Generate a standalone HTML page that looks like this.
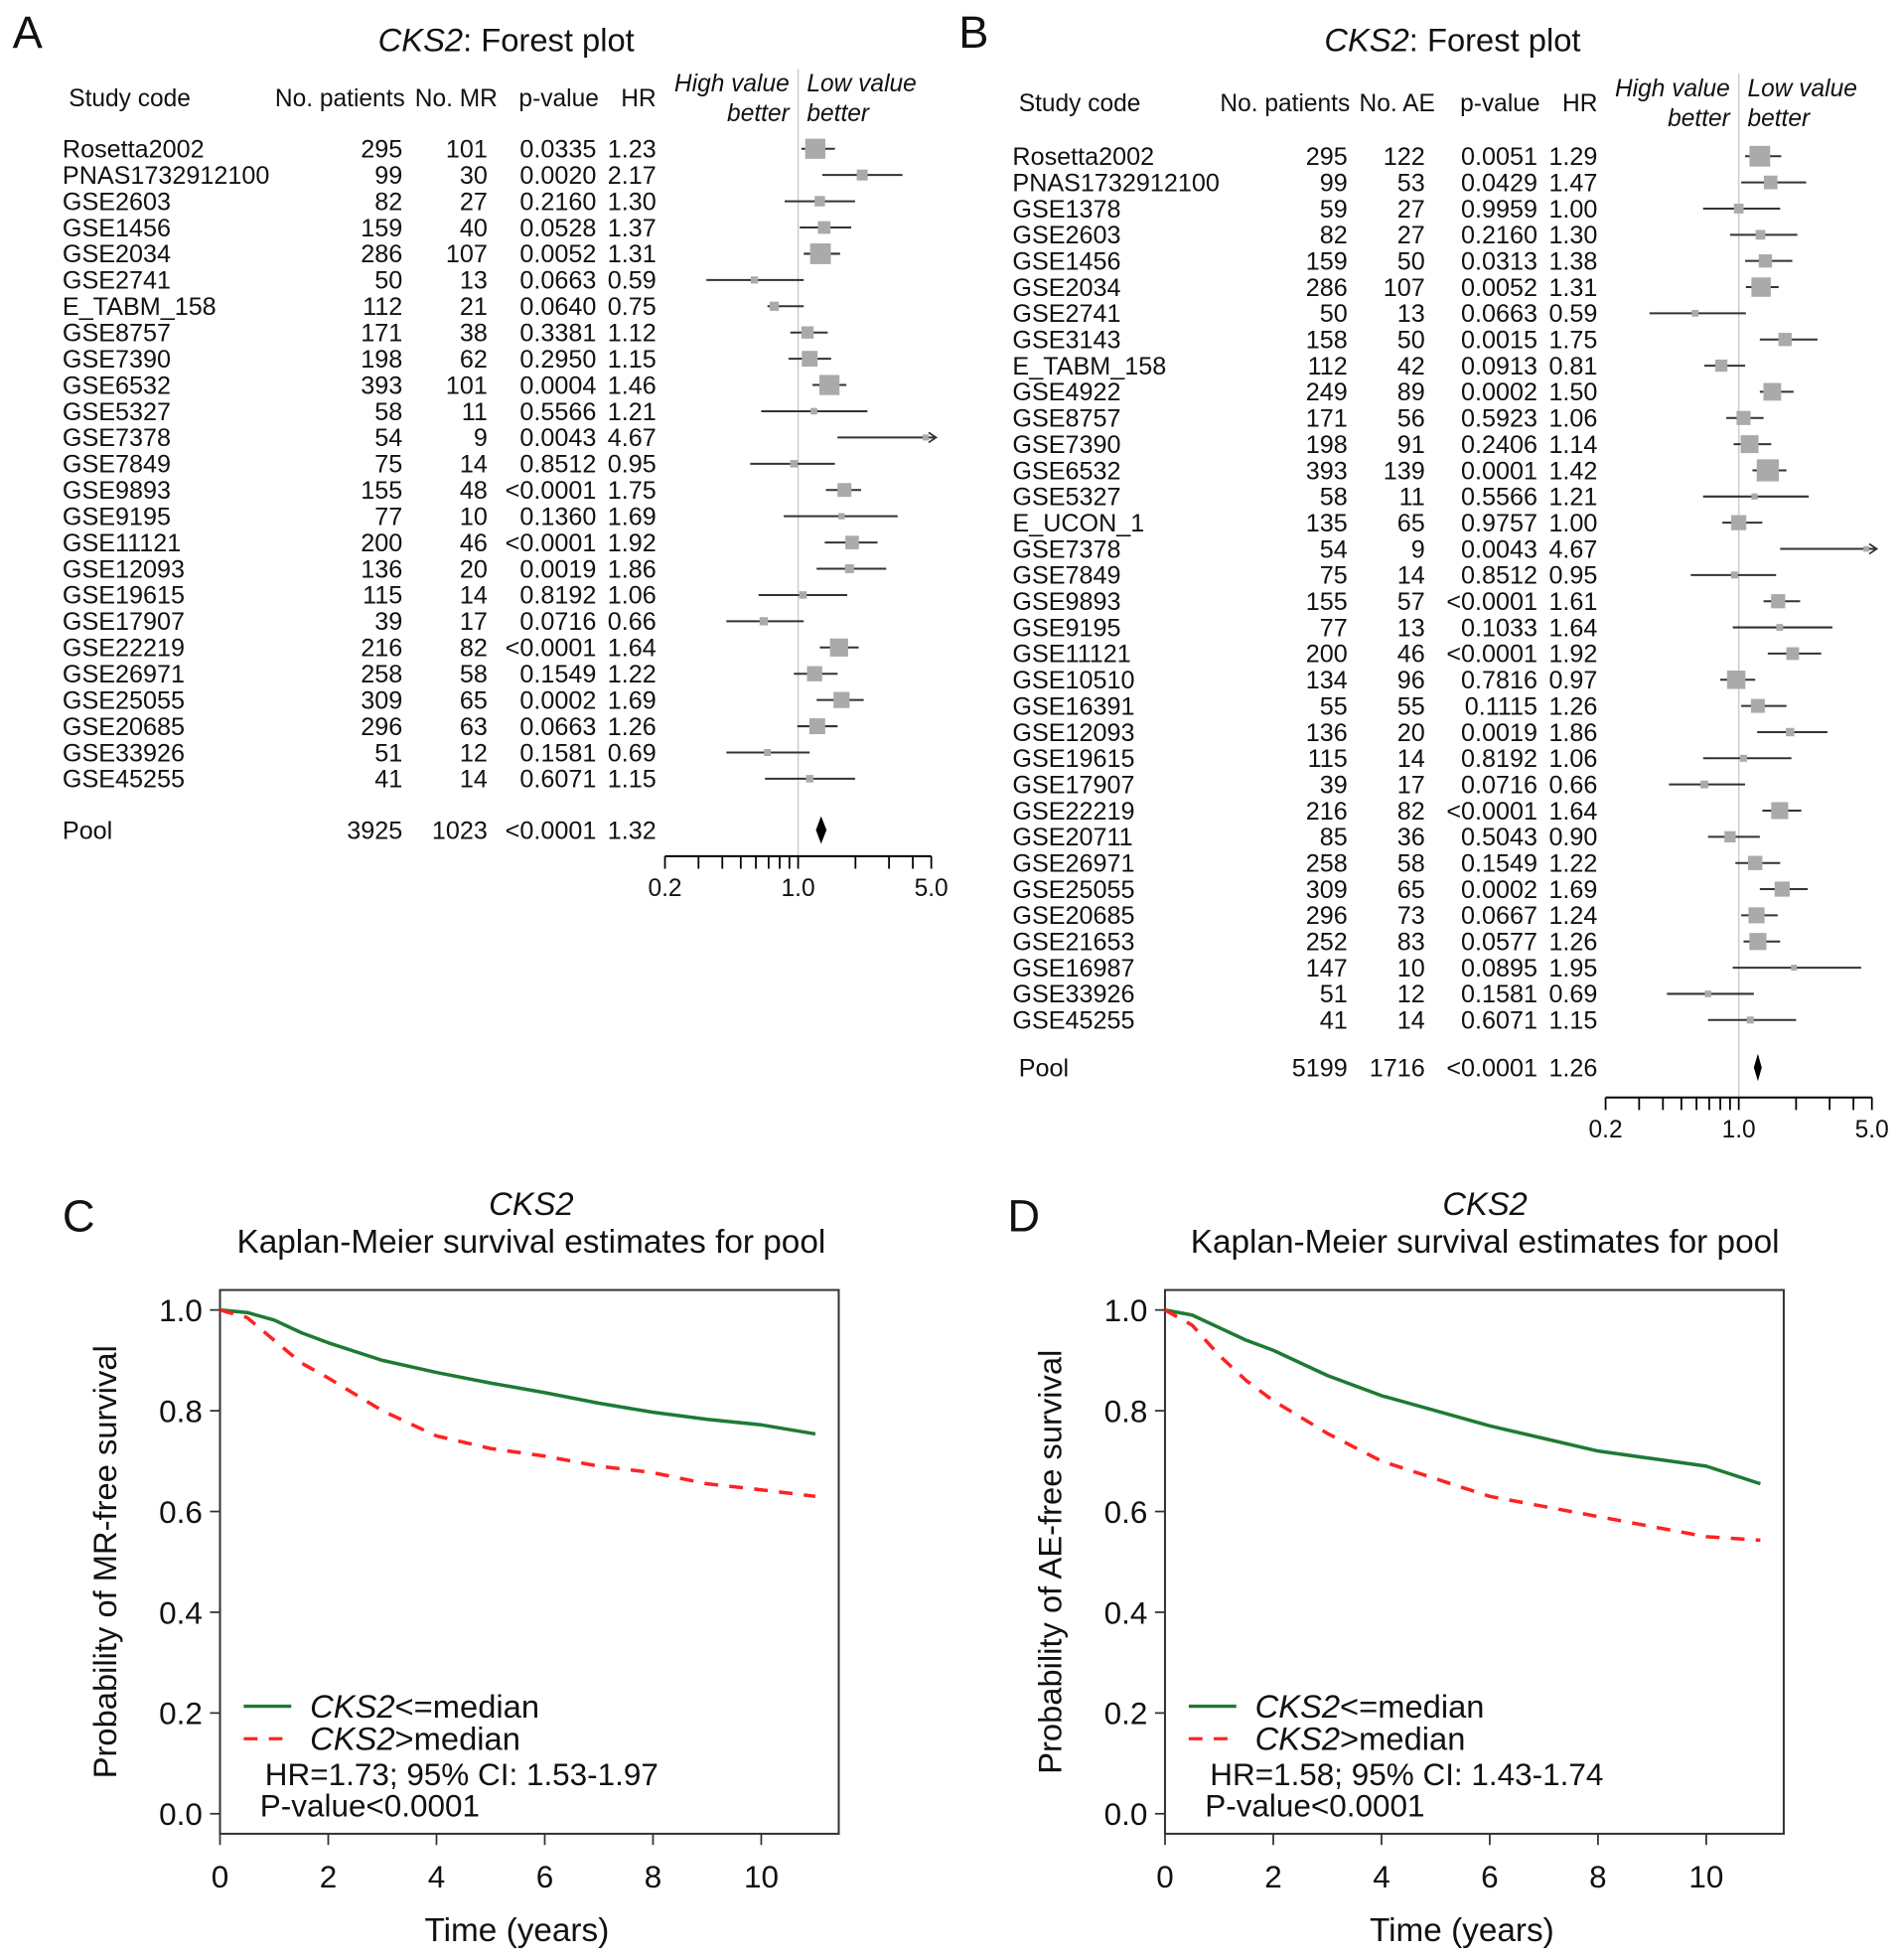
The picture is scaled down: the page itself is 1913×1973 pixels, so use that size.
<!DOCTYPE html>
<html><head><meta charset="utf-8"><style>
html,body{margin:0;padding:0;background:#fff}
svg{display:block}
text{font-family:"Liberation Sans",Arial,sans-serif;fill:#111}
</style></head><body>
<svg id="fig" xmlns="http://www.w3.org/2000/svg" width="1913" height="1973" viewBox="0 0 1520 1568" preserveAspectRatio="none"></svg>
<script>
// ---------- Panel A data ----------
const aStudies=["Rosetta2002","PNAS1732912100","GSE2603","GSE1456","GSE2034","GSE2741","E_TABM_158","GSE8757","GSE7390","GSE6532","GSE5327","GSE7378","GSE7849","GSE9893","GSE9195","GSE11121","GSE12093","GSE19615","GSE17907","GSE22219","GSE26971","GSE25055","GSE20685","GSE33926","GSE45255"];
const aPatients=[295,99,82,159,286,50,112,171,198,393,58,54,75,155,77,200,136,115,39,216,258,309,296,51,41];
const aEvents=[101,30,27,40,107,13,21,38,62,101,11,9,14,48,10,46,20,14,17,82,58,65,63,12,14];
const aP=["0.0335","0.0020","0.2160","0.0528","0.0052","0.0663","0.0640","0.3381","0.2950","0.0004","0.5566","0.0043","0.8512","<0.0001","0.1360","<0.0001","0.0019","0.8192","0.0716","<0.0001","0.1549","0.0002","0.0663","0.1581","0.6071"];
const aHR=[1.23,2.17,1.30,1.37,1.31,0.59,0.75,1.12,1.15,1.46,1.21,4.67,0.95,1.75,1.69,1.92,1.86,1.06,0.66,1.64,1.22,1.69,1.26,0.69,1.15];
const aLo=[1.04,1.34,0.85,1.02,1.07,0.33,0.69,0.91,0.89,1.19,0.64,1.61,0.56,1.40,0.84,1.38,1.25,0.62,0.42,1.30,0.95,1.25,0.99,0.42,0.67];
const aHi=[1.56,3.53,1.99,1.90,1.66,1.07,1.07,1.43,1.49,1.79,2.31,6.0,1.56,2.14,3.33,2.61,2.90,1.81,1.07,2.08,1.61,2.21,1.61,1.15,1.99];
const aPool={n:"3925",e:"1023",p:"<0.0001",hr:1.32,lo:1.24,hi:1.41};
// ---------- Panel B data ----------
const bStudies=["Rosetta2002","PNAS1732912100","GSE1378","GSE2603","GSE1456","GSE2034","GSE2741","GSE3143","E_TABM_158","GSE4922","GSE8757","GSE7390","GSE6532","GSE5327","E_UCON_1","GSE7378","GSE7849","GSE9893","GSE9195","GSE11121","GSE10510","GSE16391","GSE12093","GSE19615","GSE17907","GSE22219","GSE20711","GSE26971","GSE25055","GSE20685","GSE21653","GSE16987","GSE33926","GSE45255"];
const bPatients=[295,99,59,82,159,286,50,158,112,249,171,198,393,58,135,54,75,155,77,200,134,55,136,115,39,216,85,258,309,296,252,147,51,41];
const bEvents=[122,53,27,27,50,107,13,50,42,89,56,91,139,11,65,9,14,57,13,46,96,55,20,14,17,82,36,58,65,73,83,10,12,14];
const bP=["0.0051","0.0429","0.9959","0.2160","0.0313","0.0052","0.0663","0.0015","0.0913","0.0002","0.5923","0.2406","0.0001","0.5566","0.9757","0.0043","0.8512","<0.0001","0.1033","<0.0001","0.7816","0.1115","0.0019","0.8192","0.0716","<0.0001","0.5043","0.1549","0.0002","0.0667","0.0577","0.0895","0.1581","0.6071"];
const bHR=[1.29,1.47,1.00,1.30,1.38,1.31,0.59,1.75,0.81,1.50,1.06,1.14,1.42,1.21,1.00,4.67,0.95,1.61,1.64,1.92,0.97,1.26,1.86,1.06,0.66,1.64,0.90,1.22,1.69,1.24,1.26,1.95,0.69,1.15];
const bLo=[1.08,1.03,0.65,0.90,1.08,1.09,0.34,1.29,0.66,1.29,0.86,0.94,1.18,0.65,0.82,1.65,0.56,1.35,0.93,1.42,0.80,1.03,1.25,0.65,0.43,1.33,0.69,0.96,1.29,1.03,1.06,0.93,0.42,0.69];
const bHi=[1.67,2.26,1.65,2.03,1.91,1.62,1.09,2.59,1.08,1.94,1.35,1.48,1.78,2.33,1.33,6.0,1.57,2.10,3.10,2.71,1.22,1.78,2.92,1.89,1.08,2.13,1.29,1.65,2.30,1.60,1.65,4.39,1.20,2.00];
const bPool={n:"5199",e:"1716",p:"<0.0001",hr:1.26,lo:1.20,hi:1.32};
// ---------- KM data ----------
const kmYears=[0,0.5,1,1.5,2,3,4,5,6,7,8,9,10,11];
const cLow=[1.0,0.995,0.98,0.955,0.935,0.90,0.876,0.855,0.836,0.815,0.797,0.783,0.772,0.754];
const cHigh=[1.0,0.985,0.94,0.895,0.865,0.80,0.750,0.725,0.710,0.690,0.677,0.655,0.643,0.630];
const dLow=[1.0,0.99,0.965,0.94,0.92,0.87,0.83,0.80,0.77,0.745,0.72,0.705,0.69,0.655];
const dHigh=[1.0,0.97,0.91,0.86,0.82,0.755,0.70,0.665,0.63,0.61,0.59,0.57,0.55,0.543];
const hrTicks=[0.2,0.3,0.4,0.5,0.6,0.7,0.8,0.9,1,2,3,4,5];
const hrTickLabels=["0.2","1.0","5.0"];
const kmYTicks=[0,0.2,0.4,0.6,0.8,1.0];
const kmXTicks=[0,2,4,6,8,10];

const NS="http://www.w3.org/2000/svg";
const svg=document.getElementById('fig');
function mk(tag,attrs,parent){const e=document.createElementNS(NS,tag);for(const k in attrs)e.setAttribute(k,attrs[k]);(parent||svg).appendChild(e);return e;}
function txt(s,x,y,size,anchor,parent,extra){const t=mk('text',Object.assign({x:x,y:y,'font-size':size,'text-anchor':anchor||'start'},extra||{}),parent);t.textContent=s;return t;}

function forest(cfg){
  const g=mk('g',{});
  
  
  const sx=v=>cfg.c1+152.4*Math.log10(v);
  const lab=txt(cfg.letter,cfg.lx,cfg.ly,36,'start',g);
  
  const t=mk('text',{x:cfg.tx,y:cfg.ty,'font-size':26,'text-anchor':'middle'},g);
  
  const ti=mk('tspan',{'font-style':'italic'},t);ti.textContent='CKS2';
  const tr=mk('tspan',{},t);tr.textContent=': Forest plot';
  const hdr=[["Study code",cfg.colName+5,'start'],["No. patients",cfg.colN+2,'end'],[cfg.evLabel,cfg.colE+8,'end'],["p-value",cfg.colP+2,'end'],["HR",cfg.colH,'end']];
  hdr.forEach(h=>{const e=txt(h[0],h[1],cfg.hy,19.5,h[2],g);});
  const c1=sx(1);
  [["High value",c1-7,cfg.hy-12,'end'],["better",c1-7,cfg.hy+12,'end'],["Low value",c1+7,cfg.hy-12,'start'],["better",c1+7,cfg.hy+12,'start']].forEach(h=>{
    const e=txt(h[0],h[1],h[2],19.5,h[3],g,{'font-style':'italic'});});
  const ref=mk('line',{x1:c1,x2:c1,y1:cfg.hy-30,y2:cfg.axY,stroke:'#ccc','stroke-width':1.2},g);
  
  cfg.studies.forEach((s,i)=>{
    const y=cfg.y0+i*cfg.dy;
    const row=mk('g',{},g);
    
    txt(s,cfg.colName,y+7,20,'start',row);
    txt(String(cfg.n[i]),cfg.colN,y+7,20,'end',row);
    txt(String(cfg.e[i]),cfg.colE,y+7,20,'end',row);
    txt(cfg.p[i],cfg.colP,y+7,20,'end',row);
    txt(cfg.hr[i].toFixed(2),cfg.colH,y+7,20,'end',row);
    const hiC=Math.min(cfg.hi[i],5.3);
    const ci=mk('line',{x1:sx(cfg.lo[i]),x2:sx(hiC),y1:y,y2:y,stroke:'#333','stroke-width':1.6},row);
    
    if(cfg.hi[i]>5.3){const a=mk('path',{d:`M${sx(hiC)-6},${y-4} L${sx(hiC)},${y} L${sx(hiC)-6},${y+4}`,fill:'none',stroke:'#333','stroke-width':1.4},row);
      }
    const sz=cfg.k*Math.sqrt(cfg.e[i]);
    const b=mk('rect',{x:sx(cfg.hr[i])-sz/2,y:y-sz/2,width:sz,height:sz,fill:'#aaa'},row);
    
  });
  const py=cfg.poolY;
  const pr=mk('g',{},g);
  txt("Pool",cfg.colName+(cfg.letter=='B'?5:0),py+7,20,'start',pr);
  txt(cfg.pool.n,cfg.colN,py+7,20,'end',pr);txt(cfg.pool.e,cfg.colE,py+7,20,'end',pr);
  txt(cfg.pool.p,cfg.colP,py+7,20,'end',pr);txt(cfg.pool.hr.toFixed(2),cfg.colH,py+7,20,'end',pr);
  const d=mk('path',{d:`M${sx(cfg.pool.lo)},${py} L${sx(cfg.pool.hr)},${py-11} L${sx(cfg.pool.hi)},${py} L${sx(cfg.pool.hr)},${py+11}Z`,fill:'#000'},pr);
  
  const ax=mk('g',{},g);
  mk('line',{x1:sx(0.2),x2:sx(5),y1:cfg.axY,y2:cfg.axY,stroke:'#000','stroke-width':1.6},ax);
  hrTicks.forEach(v=>mk('line',{x1:sx(v),x2:sx(v),y1:cfg.axY,y2:cfg.axY+10,stroke:'#000','stroke-width':1.4},ax));
  hrTickLabels.forEach(l=>txt(l,sx(parseFloat(l)),cfg.axY+32,19.5,'middle',ax));
}
forest({name:'forest-plot-a',letter:'A',lx:10,ly:38,tx:405,ty:41,hy:85,colName:50,colN:322,colE:390,colP:477,colH:525,c1:638.5,
  y0:119,dy:21.0,poolY:664,axY:685,studies:aStudies,n:aPatients,e:aEvents,p:aP,hr:aHR,lo:aLo,hi:aHi,pool:aPool,evLabel:'No. MR',k:1.6});
forest({name:'forest-plot-b',letter:'B',lx:767,ly:38,tx:1162,ty:41,hy:89,colName:810,colN:1078,colE:1140,colP:1230,colH:1278,c1:1391,
  y0:125,dy:20.94,poolY:854,axY:878,studies:bStudies,n:bPatients,e:bEvents,p:bP,hr:bHR,lo:bLo,hi:bHi,pool:bPool,evLabel:'No. AE',k:1.5});

function km(cfg){
  const g=mk('g',{});
  
  const L=cfg.x0,T=1032,R=cfg.x0+495,B=1467;
  const sx=v=>L+43.3*v, sy=v=>1451-403*v;
  const lab=txt(cfg.letter,cfg.lx,985,36,'start',g);
  const t1=txt('CKS2',cfg.tx,972,26,'middle',g,{'font-style':'italic'});
  const t2=txt('Kaplan-Meier survival estimates for pool',cfg.tx,1002,26.5,'middle',g);
  const fr=mk('rect',{x:L,y:T,width:R-L,height:B-T,fill:'none',stroke:'#333','stroke-width':1.6},g);
  const ya=mk('g',{},g);
  kmYTicks.forEach(v=>{mk('line',{x1:L-8,x2:L,y1:sy(v),y2:sy(v),stroke:'#333','stroke-width':1.4},ya);txt(v.toFixed(1),L-14,sy(v)+9,25,'end',ya);});
  const xa=mk('g',{},g);
  kmXTicks.forEach(v=>{mk('line',{x1:sx(v),x2:sx(v),y1:B,y2:B+9,stroke:'#333','stroke-width':1.4},xa);txt(String(v),sx(v),B+43,25,'middle',xa);});
  const xt=txt('Time (years)',(L+R)/2-10,1553,26.5,'middle',g);
  const yt=txt(cfg.ylab,0,0,26,'middle',g,{transform:`translate(${cfg.ylx},${(T+B)/2}) rotate(-90)`});
  function curve(vals,color,dash,nm){
    let d=`M${sx(kmYears[0])},${sy(vals[0])}`;
    for(let i=1;i<kmYears.length;i++){d+=` L${sx(kmYears[i])},${sy(vals[i])}`;}
    const p=mk('path',{d:d,fill:'none',stroke:color,'stroke-width':2.8,'stroke-dasharray':dash||'none','stroke-linejoin':'round'},g);
    
  }
  curve(cfg.low,'#1e7a32',null,'curve-low');
  curve(cfg.high,'#ff2222','11 9','curve-high');
  const lg=mk('g',{},g);
  mk('line',{x1:L+19,x2:L+57,y1:1365,y2:1365,stroke:'#1e7a32','stroke-width':2.6},lg);
  mk('line',{x1:L+19,x2:L+57,y1:1391,y2:1391,stroke:'#ff2222','stroke-width':2.6,'stroke-dasharray':'11 9'},lg);
  [['<=median',1374],['>median',1400]].forEach((r,i)=>{const t=mk('text',{x:L+72,y:r[1],'font-size':26},lg);
    const a=mk('tspan',{'font-style':'italic'},t);a.textContent='CKS2';const b=mk('tspan',{},t);b.textContent=r[0];});
  txt(cfg.hrText,L+36,1428,25,'start',lg);
  txt('P-value<0.0001',L+32,1453,25,'start',lg);
}
km({name:'km-plot-c',letter:'C',lx:50,x0:176,tx:425,ylab:'Probability of MR-free survival',ylx:93,low:cLow,high:cHigh,hrText:'HR=1.73; 95% CI: 1.53-1.97'});
km({name:'km-plot-d',letter:'D',lx:806,x0:932,tx:1188,ylab:'Probability of AE-free survival',ylx:849,low:dLow,high:dHigh,hrText:'HR=1.58; 95% CI: 1.43-1.74'});
</script>
</body></html>
